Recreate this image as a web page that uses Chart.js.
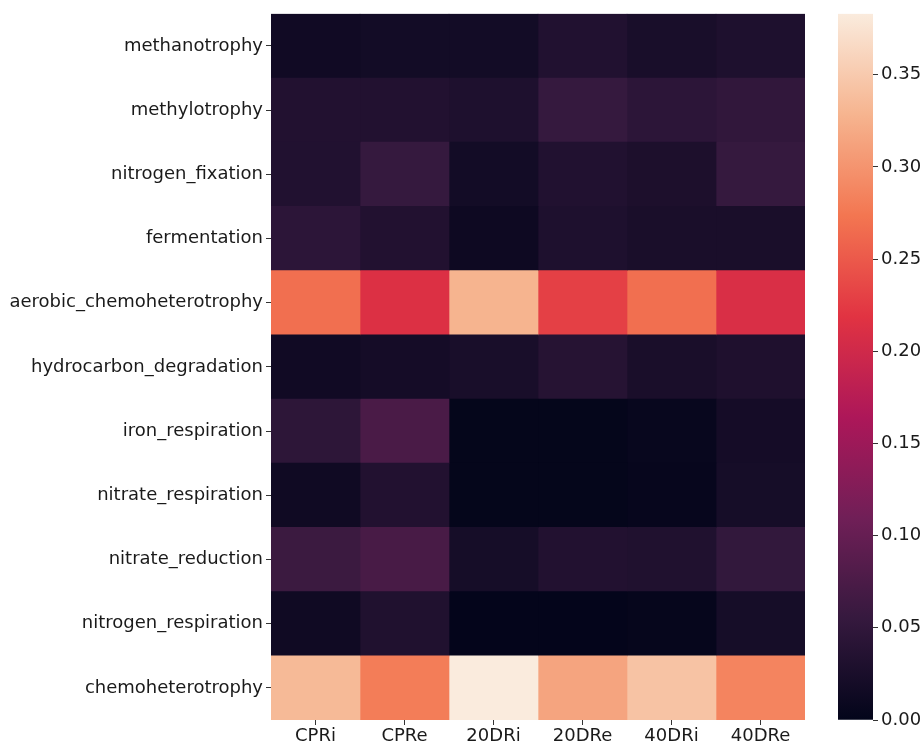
<!DOCTYPE html>
<html>
<head>
<meta charset="utf-8">
<script src="https://cdn.jsdelivr.net/npm/chart.js@4.4.0/dist/chart.umd.min.js"></script>
<style>
  html, body { margin: 0; padding: 0; background: #fff; }
  #main { position: absolute; left: 0; top: 0; width: 830px; height: 742px; }
  #cbar { position: absolute; left: 830px; top: 0; width: 91px; height: 742px; }
</style>
</head>
<body>
<div id="main"><canvas id="heat"></canvas></div>
<div id="cbar"><canvas id="bar"></canvas></div>
<script>
// rows (functions) and columns (samples)
const functions = [
  'methanotrophy', 'methylotrophy', 'nitrogen_fixation', 'fermentation',
  'aerobic_chemoheterotrophy', 'hydrocarbon_degradation', 'iron_respiration',
  'nitrate_respiration', 'nitrate_reduction', 'nitrogen_respiration', 'chemoheterotrophy'
];
const samples = ['CPRi', 'CPRe', '20DRi', '20DRe', '40DRi', '40DRe'];

// relative abundance per sample, same order as functions
const CPRi  = [0.015, 0.034, 0.033, 0.045, 0.268, 0.015, 0.046, 0.014, 0.060, 0.014, 0.334];
const CPRe  = [0.018, 0.034, 0.055, 0.034, 0.213, 0.020, 0.074, 0.034, 0.072, 0.032, 0.280];
const DR20i = [0.018, 0.030, 0.018, 0.012, 0.328, 0.024, 0.002, 0.002, 0.021, 0.001, 0.383];
const DR20e = [0.033, 0.055, 0.033, 0.030, 0.229, 0.038, 0.002, 0.002, 0.034, 0.001, 0.314];
const DR40i = [0.024, 0.045, 0.028, 0.025, 0.268, 0.025, 0.006, 0.004, 0.032, 0.003, 0.343];
const DR40e = [0.030, 0.050, 0.055, 0.025, 0.210, 0.031, 0.020, 0.021, 0.052, 0.021, 0.286];
const columns = [CPRi, CPRe, DR20i, DR20e, DR40i, DR40e];

const vmin = 0;
const vmax = 0.383;
const cbarTicks = [0, 0.05, 0.10, 0.15, 0.20, 0.25, 0.30, 0.35];

// seaborn "rocket" colormap, sampled
const rocket = [
  [0.000, [3, 5, 26]],
  [0.143, [53, 25, 62]],
  [0.286, [112, 31, 87]],
  [0.429, [173, 23, 89]],
  [0.571, [225, 51, 66]],
  [0.714, [243, 118, 81]],
  [0.857, [246, 180, 143]],
  [1.000, [250, 235, 221]]
];

function rocketColor(t) {
  t = Math.max(0, Math.min(1, t));
  for (let i = 1; i < rocket.length; i++) {
    if (t <= rocket[i][0]) {
      const [t0, c0] = rocket[i - 1];
      const [t1, c1] = rocket[i];
      const f = (t - t0) / (t1 - t0);
      const c = c0.map((v, k) => Math.round(v + (c1[k] - v) * f));
      return `rgb(${c[0]},${c[1]},${c[2]})`;
    }
  }
  return 'rgb(250,235,221)';
}

const font = { family: 'DejaVu Sans', size: 18 };
const textColor = '#1a1a1a';

// heatmap: one floating bar per cell
const datasets = columns.map((vals, c) => ({
  label: samples[c],
  data: functions.map((f, r) => ({ y: f, x: [c, c + 1], v: vals[r] })),
  backgroundColor: ctx => rocketColor((ctx.raw.v - vmin) / (vmax - vmin)),
  borderWidth: 0,
  grouped: false,
  barPercentage: 1,
  categoryPercentage: 1
}));

new Chart(document.getElementById('heat'), {
  type: 'bar',
  data: { labels: functions, datasets: datasets },
  options: {
    indexAxis: 'y',
    responsive: true,
    maintainAspectRatio: false,
    animation: false,
    layout: { padding: { top: 11, right: 25, left: 0, bottom: 0 } },
    plugins: { legend: { display: false }, tooltip: { enabled: false } },
    scales: {
      y: {
        type: 'category',
        afterFit: s => { s.width = 271; },
        border: { display: false },
        grid: { offset: false, drawOnChartArea: false, drawTicks: true, tickLength: 5, tickColor: '#333' },
        ticks: { font: font, color: textColor, padding: 3, autoSkip: false }
      },
      x: {
        type: 'linear',
        min: 0,
        max: samples.length,
        afterFit: s => { s.height = 22; },
        afterBuildTicks: s => { s.ticks = samples.map((_, i) => ({ value: i + 0.5 })); },
        border: { display: false },
        grid: { drawOnChartArea: false, drawTicks: true, tickLength: 5, tickColor: '#333' },
        ticks: {
          font: font, color: textColor, padding: 1, autoSkip: false, maxRotation: 0,
          callback: v => samples[Math.floor(v)]
        }
      }
    }
  }
});

// colour bar
new Chart(document.getElementById('bar'), {
  type: 'bar',
  data: {
    labels: [''],
    datasets: [{
      data: [[vmin, vmax]],
      backgroundColor: ctx => {
        const a = ctx.chart.chartArea;
        if (!a) return '#000';
        const g = ctx.chart.ctx.createLinearGradient(0, a.bottom, 0, a.top);
        rocket.forEach(([t, c]) => g.addColorStop(t, `rgb(${c[0]},${c[1]},${c[2]})`));
        return g;
      },
      borderWidth: 0,
      barPercentage: 1,
      categoryPercentage: 1
    }]
  },
  options: {
    responsive: true,
    maintainAspectRatio: false,
    animation: false,
    layout: { padding: { top: 11, left: 8, right: 0, bottom: 22 } },
    plugins: { legend: { display: false }, tooltip: { enabled: false } },
    scales: {
      x: { display: false },
      y: {
        position: 'right',
        min: vmin,
        max: vmax,
        afterFit: s => { s.width = 48; },
        afterBuildTicks: s => { s.ticks = cbarTicks.map(v => ({ value: v })); },
        border: { display: false },
        grid: { drawOnChartArea: false, drawTicks: true, tickLength: 5, tickColor: '#333' },
        ticks: { font: font, color: textColor, padding: 3, callback: v => v.toFixed(2) }
      }
    }
  }
});
</script>
</body>
</html>
